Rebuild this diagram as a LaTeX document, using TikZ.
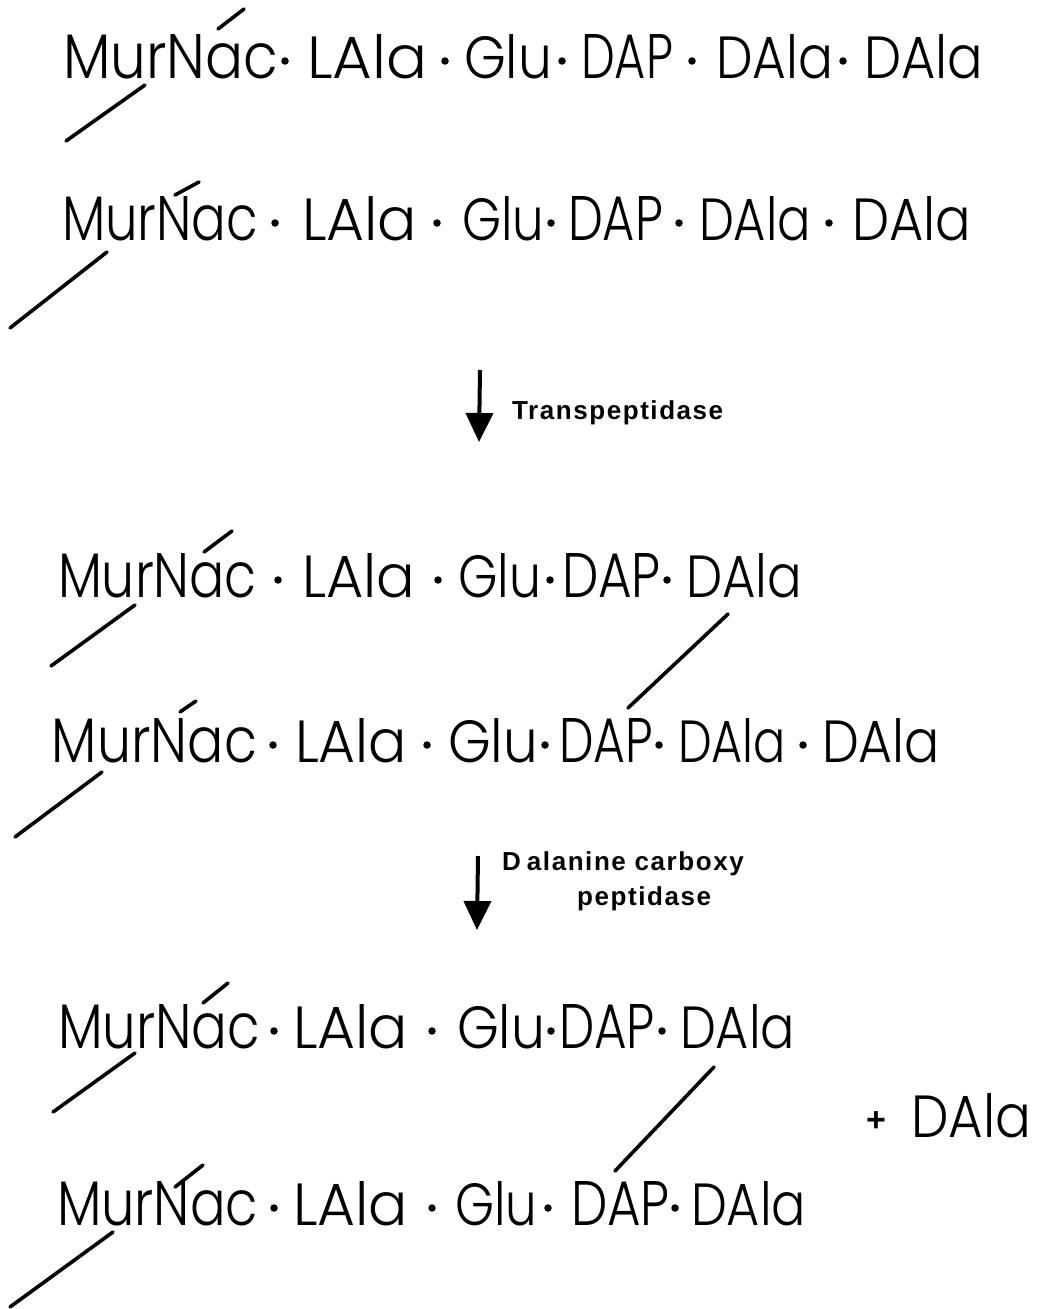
\documentclass[tikz,border=0pt]{standalone}
\usepackage{graphicx}
\usepackage{fontspec}
\IfFontExistsTF{Poppins Light}{\setmainfont{Poppins Light}}{\setmainfont{Poppins}}
\newfontfamily\lblfont[LetterSpace=6]{Liberation Sans}
\newfontfamily\plusfont{Liberation Sans Bold}
\usetikzlibrary{arrows.meta}
\newcommand\pw[2]{\resizebox{#1pt}{44pt}{#2}}
\tikzset{
  word/.style={anchor=base west, inner sep=0pt, outer sep=0pt},
  pdot/.style={circle, fill=black, inner sep=0pt, minimum size=7.5pt},
  bond/.style={line width=3.6pt, line cap=round},
  lbl/.style={font=\lblfont\bfseries\fontsize{26}{30}\selectfont, inner sep=0pt, anchor=west},
  rxn/.style={line width=4pt, -{Triangle[width=27pt,length=29pt]}}
}
\begin{document}
\begin{tikzpicture}[x=1pt,y=-1pt]
\useasboundingbox[fill=white] (0,0) rectangle (1041,1309);

% ---------- line 1 ----------
\node[word] (m1) at (63,78) {\pw{215}{MurNac}};
\node[pdot] (d11) at (285,61) {};
\node[word] (l1) at (307,78) {\pw{120}{LAla}};
\node[pdot] (d12) at (445,61) {};
\node[word] (g1) at (464,78) {\pw{88}{Glu}};
\node[pdot] (d13) at (562,61) {};
\node[word] (p1) at (581,78) {\pw{92}{DAP}};
\node[pdot] (d14) at (692,61) {};
\node[word] (a1) at (716,78) {\pw{117}{DAla}};
\node[pdot] (d15) at (843,61) {};
\node[word] (b1) at (864,78) {\pw{119}{DAla}};

% ---------- line 2 ----------
\node[word] (m2) at (62,240) {\pw{196}{MurNac}};
\node[pdot] (d21) at (275,223) {};
\node[word] (l2) at (302,240) {\pw{115}{LAla}};
\node[pdot] (d22) at (437,223) {};
\node[word] (g2) at (462,240) {\pw{82}{Glu}};
\node[pdot] (d23) at (551,223) {};
\node[word] (p2) at (568,240) {\pw{95}{DAP}};
\node[pdot] (d24) at (679,223) {};
\node[word] (a2) at (699,240) {\pw{112}{DAla}};
\node[pdot] (d25) at (829,223) {};
\node[word] (b2) at (852,240) {\pw{119}{DAla}};

% ---------- arrow 1 ----------
\coordinate (r1s) at (480,370);
\coordinate (r1e) at (479,442);
\draw[rxn] (r1s) -- (r1e);
\node[lbl] (lab1) at (512,413) {Transpeptidase};

% ---------- line 3 ----------
\node[word] (m3) at (58,597) {\pw{199}{MurNac}};
\node[pdot] (d31) at (278,580) {};
\node[word] (l3) at (302,597) {\pw{113}{LAla}};
\node[pdot] (d32) at (438,580) {};
\node[word] (g3) at (458,597) {\pw{83}{Glu}};
\node[pdot] (d33) at (550,580) {};
\node[word] (p3) at (562,597) {\pw{99}{DAP}};
\node[pdot] (d34) at (667,580) {};
\node[word] (a3) at (686,597) {\pw{116}{DAla}};

% ---------- line 4 ----------
\node[word] (m4) at (52,762) {\pw{205}{MurNac}};
\node[pdot] (d41) at (273,745) {};
\node[word] (l4) at (295,762) {\pw{112}{LAla}};
\node[pdot] (d42) at (427,745) {};
\node[word] (g4) at (448,762) {\pw{90}{Glu}};
\node[pdot] (d43) at (545,745) {};
\node[word] (p4) at (559,762) {\pw{94}{DAP}};
\node[pdot] (d44) at (659,745) {};
\node[word] (a4) at (678,762) {\pw{108}{DAla}};
\node[pdot] (d45) at (803,745) {};
\node[word] (b4) at (822,762) {\pw{118}{DAla}};

% ---------- arrow 2 ----------
\coordinate (r2s) at (478,856);
\coordinate (r2e) at (477,930);
\draw[rxn] (r2s) -- (r2e);
\node[lbl] (lab2a) at (502,864) {D\hspace{6pt}alanine carboxy};
\node[lbl] (lab2b) at (577,899) {peptidase};

% ---------- line 5 ----------
\node[word] (m5) at (58,1048) {\pw{202}{MurNac}};
\node[pdot] (d51) at (274,1031) {};
\node[word] (l5) at (293,1048) {\pw{115}{LAla}};
\node[pdot] (d52) at (432,1031) {};
\node[word] (g5) at (457,1048) {\pw{88}{Glu}};
\node[pdot] (d53) at (551,1031) {};
\node[word] (p5) at (559,1048) {\pw{96}{DAP}};
\node[pdot] (d54) at (662,1031) {};
\node[word] (a5) at (680,1048) {\pw{115}{DAla}};

% ---------- line 6 ----------
\node[word] (m6) at (57,1225) {\pw{201}{MurNac}};
\node[pdot] (d61) at (274,1208) {};
\node[word] (l6) at (293,1225) {\pw{115}{LAla}};
\node[pdot] (d62) at (432,1208) {};
\node[word] (g6) at (455,1225) {\pw{82}{Glu}};
\node[pdot] (d63) at (548,1208) {};
\node[word] (p6) at (571,1225) {\pw{99}{DAP}};
\node[pdot] (d64) at (675,1208) {};
\node[word] (a6) at (691,1225) {\pw{115}{DAla}};

% ---------- released D-Ala ----------
\node[inner sep=0pt, font=\plusfont\fontsize{34}{34}\selectfont] (plus) at (876,1122) {+};
\node[word] (free) at (911,1137) {\pw{120}{DAla}};

% ---------- glycan bonds (slashes) ----------
\coordinate (u1a) at (218,29);  \coordinate (u1b) at (244,9);
\coordinate (v1a) at (145,85);  \coordinate (v1b) at (66,141);
\coordinate (u2a) at (175,195); \coordinate (u2b) at (199,182);
\coordinate (v2a) at (107,252); \coordinate (v2b) at (10,328);
\coordinate (u3a) at (204,552); \coordinate (u3b) at (232,531);
\coordinate (v3a) at (135,605); \coordinate (v3b) at (51,666);
\coordinate (u4a) at (180,712); \coordinate (u4b) at (196,701);
\coordinate (v4a) at (102,772); \coordinate (v4b) at (15,837);
\coordinate (u5a) at (203,1003); \coordinate (u5b) at (228,983);
\coordinate (v5a) at (135,1053); \coordinate (v5b) at (53,1112);
\coordinate (u6a) at (175,1187); \coordinate (u6b) at (203,1165);
\coordinate (v6a) at (113,1232); \coordinate (v6b) at (10,1307);
\foreach \i in {1,...,6}{
  \draw[bond] (u\i a) -- (u\i b);
  \draw[bond] (v\i a) -- (v\i b);
}

% ---------- cross-links ----------
\coordinate (x3a) at (728,614); \coordinate (x3b) at (628,708);
\coordinate (x5a) at (714,1067); \coordinate (x5b) at (615,1171);
\draw[bond] (x3a) -- (x3b);
\draw[bond] (x5a) -- (x5b);
\end{tikzpicture}
\end{document}
